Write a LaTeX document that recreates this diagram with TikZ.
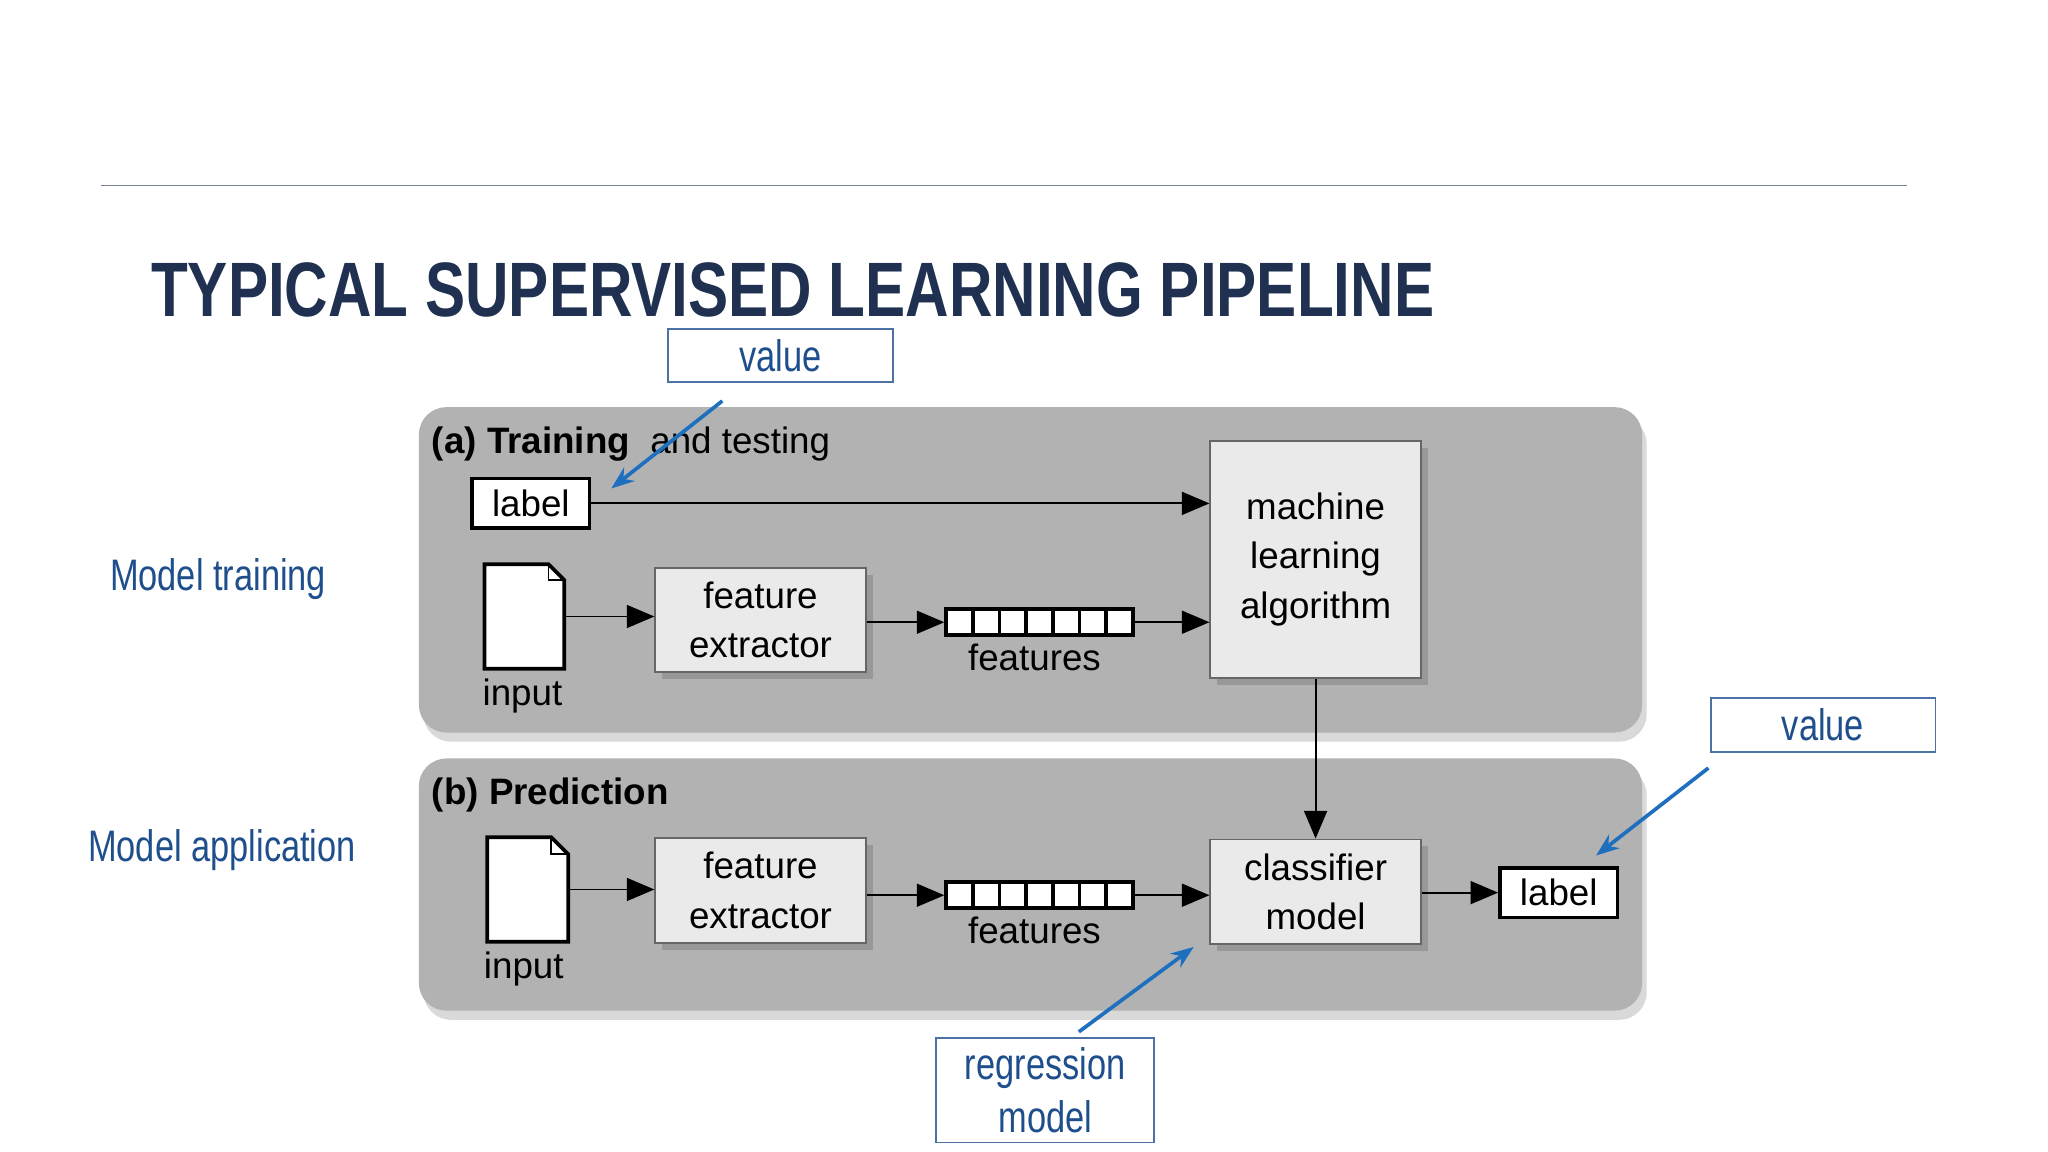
\documentclass[tikz,border=0pt]{standalone}
\usepackage{fontspec}
\setmainfont{Liberation Sans}
\newfontfamily\narrow{Liberation Sans}[FakeStretch=0.78]
\usetikzlibrary{arrows.meta,shadows}
\definecolor{navy}{HTML}{1F3050}
\definecolor{lblue}{HTML}{1F4E8C}
\definecolor{ablue}{HTML}{1F6FBF}
\definecolor{panel}{HTML}{B2B2B2}
\definecolor{boxf}{HTML}{EAEAEA}
\begin{document}
\begin{tikzpicture}[x=0.01cm,y=-0.01cm,
  panelS/.style={draw=none,fill=panel,rounded corners=6pt,drop shadow={shadow xshift=1pt,shadow yshift=-2pt,opacity=0.3}},
  box/.style={draw=black!60,fill=boxf,inner sep=0pt,align=center,font=\fontsize{8}{10.8}\selectfont,drop shadow={shadow xshift=1.5pt,shadow yshift=-1.5pt,opacity=0.5}},
  lab/.style={draw=black,thick,fill=white,inner sep=0pt,font=\fontsize{8}{10}\selectfont},
  arr/.style={-{Triangle[length=6pt,width=5pt]},thin},
  txt/.style={font=\fontsize{8}{10}\selectfont},
  blab/.style={draw=lblue!80,thin,text=lblue,inner sep=0pt,align=center,font=\narrow\fontsize{9.6}{11.5}\selectfont},
  bt/.style={text=lblue,font=\narrow\fontsize{9.6}{12}\selectfont},
  barr/.style={draw=ablue,thick,-{Stealth[length=5pt]}},
  cell/.style={draw=black,thick,fill=white,minimum width=0.204cm,minimum height=0.2cm,inner sep=0pt}
]
\useasboundingbox (0,0) rectangle (1568,882);
\draw[draw=navy!60,thin] (77,142) -- (1460,142);
\node[anchor=base west,text=navy,inner sep=0pt,font=\narrow\bfseries\fontsize{16.8}{20}\selectfont] (title) at (115,242) {TYPICAL SUPERVISED LEARNING PIPELINE};

\node[panelS,minimum width=9.36cm,minimum height=2.49cm,anchor=north west] (pa) at (320,311) {};
\node[panelS,minimum width=9.36cm,minimum height=1.93cm,anchor=north west] (pb) at (320,580) {};

\node[anchor=base west,txt,inner sep=0pt] (ta) at (330,347) {\textbf{(a) Training}\ \ and testing};
\node[anchor=base west,txt,inner sep=0pt] (tb) at (330,616) {\textbf{(b) Prediction}};

% (a)
\node[lab,minimum width=0.9cm,minimum height=0.38cm,anchor=north west] (la) at (360,365) {label};
\node[box,minimum width=1.61cm,minimum height=1.81cm,anchor=north west] (ml) at (926,337) {machine\\learning\\algorithm};
\draw[arr] (la.east) -- (ml.west|-la.east);
\draw[thick,fill=white] (371,432) -- (420,432) -- (432,444) -- (432,512) -- (371,512) -- cycle;
\draw[thin] (420,432) -- (420,444) -- (432,444);
\coordinate (da) at (432,472);
\node[txt] (ia) at (400,533) {input};
\node[box,minimum width=1.61cm,minimum height=0.8cm,anchor=north west] (fa) at (501,434) {feature\\extractor};
\draw[arr] (da) -- (fa.west|-da);
\foreach \i in {0,...,6}{\node[cell,anchor=north west] (ca\i) at (723+\i*20.4,465) {};}
\draw[arr] (fa.east|-ca0.west) -- (ca0.west);
\draw[arr] (ca6.east) -- (ml.west|-ca6.east);
\node[txt] (fta) at (792,503) {features};

% (b)
\node[box,minimum width=1.61cm,minimum height=0.8cm,anchor=north west] (cm) at (926,642) {classifier\\model};
\draw[arr] (ml.south) -- (cm.north);
\draw[thick,fill=white] (373,641) -- (422,641) -- (435,654) -- (435,721) -- (373,721) -- cycle;
\draw[thin] (422,641) -- (422,654) -- (435,654);
\coordinate (db) at (435,681);
\node[txt] (ib) at (401,742) {input};
\node[box,minimum width=1.61cm,minimum height=0.8cm,anchor=north west] (fb) at (501,641) {feature\\extractor};
\draw[arr] (db) -- (fb.west|-db);
\foreach \i in {0,...,6}{\node[cell,anchor=north west] (cb\i) at (723+\i*20.4,674) {};}
\draw[arr] (fb.east|-cb0.west) -- (cb0.west);
\draw[arr] (cb6.east) -- (cm.west|-cb6.east);
\node[txt] (ftb) at (792,712) {features};
\node[lab,minimum width=0.9cm,minimum height=0.38cm,anchor=north west] (lb) at (1147,663) {label};
\draw[arr] (cm.east|-lb.west) -- (lb.west);

% blue annotations
\node[blab,minimum width=1.72cm,minimum height=0.41cm,anchor=north west] (v1) at (511,251) {value};
\coordinate (v1s) at (553,307); \coordinate (v1e) at (468,374);
\draw[barr] (v1s) -- (v1e);
\node[blab,minimum width=1.72cm,minimum height=0.41cm,anchor=north west] (v2) at (1309,534) {value};
\coordinate (v2s) at (1308,588); \coordinate (v2e) at (1222,655);
\draw[barr] (v2s) -- (v2e);
\node[blab,minimum width=1.67cm,minimum height=0.8cm,anchor=north west] (rm) at (716,794) {regression\\model};
\coordinate (rs) at (826,790); \coordinate (re) at (914,725);
\draw[barr] (rs) -- (re);
\node[bt] (mt) at (167,443) {Model training};
\node[bt] (ma) at (170,651) {Model application};
\end{tikzpicture}
\end{document}
